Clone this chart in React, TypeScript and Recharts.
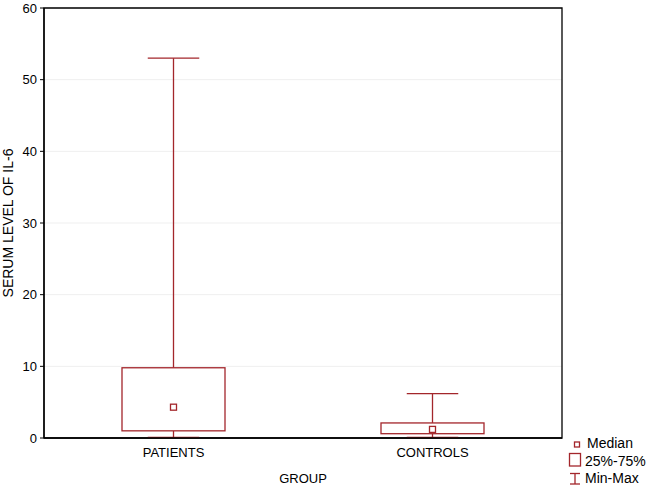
import React from 'react';
import { ComposedChart, Bar, XAxis, YAxis, CartesianGrid, ReferenceArea } from 'recharts';

const groups = ['PATIENTS', 'CONTROLS'];
const minVals = [0.1, 0.1];
const q1Vals = [1.0, 0.6];
const medianVals = [4.3, 1.2];
const q3Vals = [9.8, 2.1];
const maxVals = [53, 6.2];
const yTicks = [0, 10, 20, 30, 40, 50, 60];

const BOX = '#A3262B';
const FONT = 'Liberation Sans, Arial, sans-serif';

const data = groups.map((g, i) => ({
  group: g,
  min: minVals[i],
  q1: q1Vals[i],
  median: medianVals[i],
  q3: q3Vals[i],
  max: maxVals[i],
}));

const BoxShape = (props: any) => {
  const { x, y, width, height, payload } = props;
  const top = Math.min(y, y + height);
  const bottom = Math.max(y, y + height);
  const ppu = (bottom - top) / (payload.max - payload.min);
  const py = (v: number) => bottom - (v - payload.min) * ppu;
  const cx = x + width / 2;
  const capW = width / 2;
  return (
    <g fill="none" stroke={BOX} strokeWidth={1.3}>
      <line x1={cx} x2={cx} y1={py(payload.max)} y2={py(payload.q3)} />
      <line x1={cx} x2={cx} y1={py(payload.q1)} y2={py(payload.min)} />
      <line x1={cx - capW / 2} x2={cx + capW / 2} y1={py(payload.max)} y2={py(payload.max)} />
      <line x1={cx - capW / 2} x2={cx + capW / 2} y1={py(payload.min)} y2={py(payload.min)} />
      <rect x={x} y={py(payload.q3)} width={width} height={py(payload.q1) - py(payload.q3)} fill="#fff" />
      <rect x={cx - 3} y={py(payload.median) - 3} width={6} height={6} fill="#fff" />
    </g>
  );
};

// legend drawn as an overlay so it does not shrink the plot area
const LegendBox = () => (
  <svg width={80} height={49} style={{ fontFamily: FONT, fontSize: 14, display: 'block' }}>
    <rect x={7.5} y={6} width={5} height={5} fill="#fff" stroke={BOX} strokeWidth={1.3} />
    <text x={20} y={11.5} fill="#000">Median</text>
    <rect x={2.5} y={17.5} width={11} height={12.5} fill="#fff" stroke={BOX} strokeWidth={1.3} />
    <text x={18} y={30} fill="#000">25%-75%</text>
    <g stroke={BOX} strokeWidth={1.3}>
      <line x1={3} x2={13} y1={37.5} y2={37.5} />
      <line x1={8} x2={8} y1={37.5} y2={48} />
      <line x1={3} x2={13} y1={48} y2={48} />
    </g>
    <text x={18} y={47} fill="#000">Min-Max</text>
  </svg>
);

export default function App() {
  return (
    <div style={{ position: 'absolute', left: 0, top: 0, width: 646, height: 485, background: '#fff' }}>
      <ComposedChart
        width={646}
        height={485}
        data={data}
        margin={{ top: 8, right: 84, left: 0, bottom: 0 }}
        style={{ fontFamily: FONT }}
      >
        <CartesianGrid vertical={false} stroke="#efefef" />
        <XAxis
          dataKey="group"
          height={47}
          axisLine={{ stroke: '#000', strokeWidth: 1.3 }}
          tickLine={false}
          tickSize={6}
          tickMargin={4}
          tick={{ fill: '#000', fontSize: 13 }}
          label={{ value: 'GROUP', position: 'insideBottom', offset: 2, fill: '#000', fontSize: 13 }}
        />
        <YAxis
          domain={[0, 60]}
          ticks={yTicks}
          width={44}
          axisLine={{ stroke: '#000', strokeWidth: 1.3 }}
          tickLine={{ stroke: '#000' }}
          tickSize={4}
          tickMargin={3}
          tick={{ fill: '#000', fontSize: 13 }}
          label={{ value: 'SERUM LEVEL OF IL-6', angle: -90, position: 'insideLeft', offset: 8, fill: '#000', fontSize: 14, style: { textAnchor: 'middle' } }}
        />
        <ReferenceArea y1={0} y2={60} fill="none" fillOpacity={0} stroke="#000" strokeWidth={1.3} />
        <Bar
          dataKey={(d: any) => [d.min, d.max]}
          barSize={103}
          shape={<BoxShape />}
          isAnimationActive={false}
        />
      </ComposedChart>
      <div style={{ position: 'absolute', left: 567, top: 436 }}>
        <LegendBox />
      </div>
    </div>
  );
}
